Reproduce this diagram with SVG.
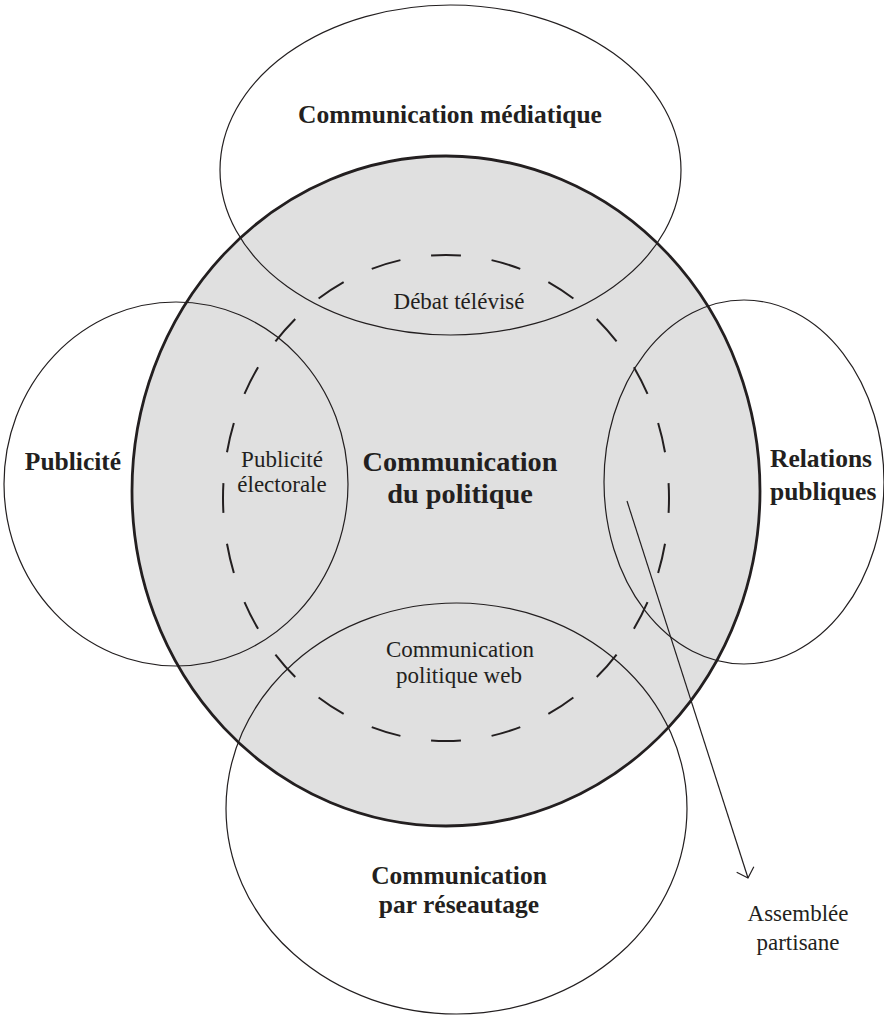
<svg xmlns="http://www.w3.org/2000/svg" width="884" height="1016" viewBox="0 0 884 1016">
  <style>
    .thin { fill: none; stroke: #231f20; stroke-width: 1.2; }
    .bold { font-family: "Liberation Serif", "Times New Roman", serif; font-weight: bold; font-size: 25.5px; fill: #231f20; text-anchor: middle; }
    .reg { font-family: "Liberation Serif", "Times New Roman", serif; font-size: 23px; fill: #231f20; text-anchor: middle; }
  </style>
  <defs>
    <marker id="openArrow" markerUnits="userSpaceOnUse" viewBox="-12 -12 24 24" markerWidth="24" markerHeight="24" refX="0" refY="0" orient="auto" overflow="visible">
      <path d="M-9,-9 L0,0 L-9,9" fill="none" stroke="#231f20" stroke-width="1.2"/>
    </marker>
  </defs>
  <rect width="884" height="1016" fill="#ffffff"/>

  <g id="communication-du-politique">
    <ellipse cx="446" cy="491" rx="314" ry="335" fill="#e0e0e0" stroke="#231f20" stroke-width="2.8"/>
  </g>

  <g id="communication-mediatique">
    <ellipse class="thin" cx="450.5" cy="170" rx="230.5" ry="165"/>
    <text class="bold" x="450" y="123">Communication médiatique</text>
  </g>

  <g id="publicite">
    <ellipse class="thin" cx="176" cy="484" rx="172" ry="182"/>
    <text class="bold" x="73" y="470">Publicité</text>
  </g>

  <g id="relations-publiques">
    <ellipse class="thin" cx="744" cy="482" rx="140" ry="182"/>
    <text class="bold" x="770" y="467" style="text-anchor:start">Relations</text>
    <text class="bold" x="770" y="500" style="text-anchor:start">publiques</text>
  </g>

  <g id="communication-par-reseautage">
    <ellipse class="thin" cx="456.5" cy="808.5" rx="230.5" ry="205.5"/>
    <text class="bold" x="459" y="884">Communication</text>
    <text class="bold" x="459" y="913">par réseautage</text>
  </g>

  <g id="zone-interne">
    <path d="M446,255 A223,243 0 0 1 669,498 A223,243 0 0 1 446,741 A223,243 0 0 1 223,498 A223,243 0 0 1 446,255 Z" fill="none" stroke="#231f20" stroke-width="2" pathLength="1464" stroke-dasharray="30 31" stroke-dashoffset="15"/>
  </g>

  <g id="label-centre">
    <text class="bold" x="460" y="471" style="font-size:28.3px">Communication</text>
    <text class="bold" x="460" y="503" style="font-size:28.3px">du politique</text>
  </g>

  <g id="debat-televise">
    <text class="reg" x="459" y="309">Débat télévisé</text>
  </g>

  <g id="publicite-electorale">
    <text class="reg" x="282" y="467">Publicité</text>
    <text class="reg" x="282" y="492">électorale</text>
  </g>

  <g id="communication-politique-web">
    <text class="reg" x="460" y="657">Communication</text>
    <text class="reg" x="459" y="683">politique web</text>
  </g>

  <g id="connectors">
    <line x1="627" y1="501" x2="748" y2="878" stroke="#231f20" stroke-width="1.2" marker-end="url(#openArrow)"/>
  </g>

  <g id="assemblee-partisane">
    <text class="reg" x="798" y="921">Assemblée</text>
    <text class="reg" x="798" y="950">partisane</text>
  </g>
</svg>
